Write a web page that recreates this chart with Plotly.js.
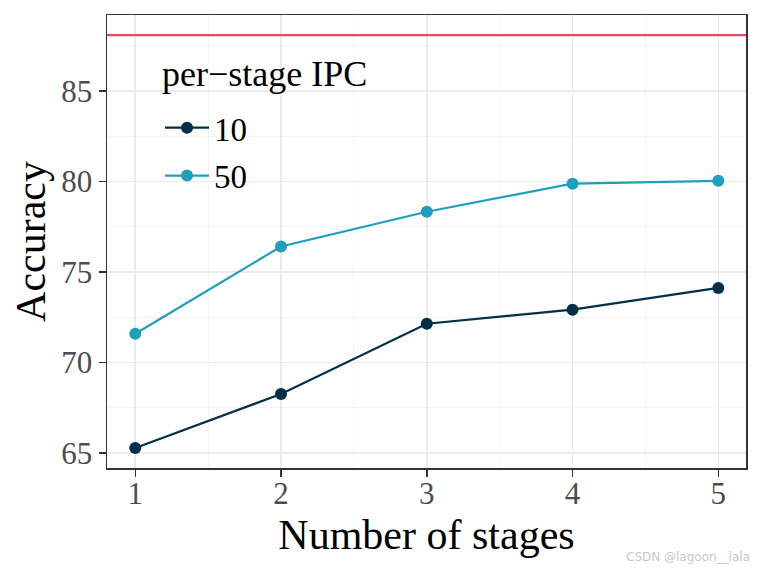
<!DOCTYPE html>
<html>
<head>
<meta charset="utf-8">
<script src="https://cdn.plot.ly/plotly-3.0.1.min.js"></script>
<style>html,body{margin:0;padding:0;background:#fff;}#chart{width:761px;height:571px;}</style>
</head>
<body>
<div id="chart"></div>
<script>
const stages = [1, 2, 3, 4, 5];
const acc_ipc10 = [65.28, 68.26, 72.14, 72.92, 74.12];
const acc_ipc50 = [71.59, 76.41, 78.33, 79.88, 80.04];
const seriesNames = ['10', '50'];
const legendTitle = 'per\u2212stage IPC';
const upperBound = 88.09;
const xTicks = [1, 2, 3, 4, 5];
const yTicks = [65, 70, 75, 80, 85];

const serif = '"Liberation Serif", "Times New Roman", serif';
const c10 = '#023047';
const c50 = '#219ebc';

const traces = [
  {x: stages, y: acc_ipc10, name: seriesNames[0], mode: 'lines+markers', type: 'scatter',
   line: {color: c10, width: 2.2}, marker: {color: c10, size: 12}, legendgroup: 'a'},
  {x: stages, y: acc_ipc50, name: seriesNames[1], mode: 'lines+markers', type: 'scatter',
   line: {color: c50, width: 2.2}, marker: {color: c50, size: 12}, legendgroup: 'b'}
];

const layout = {
  width: 761, height: 571,
  margin: {l: 107, r: 15, t: 15, b: 103},
  paper_bgcolor: '#fff', plot_bgcolor: '#fff',
  font: {family: serif, color: '#000'},
  showlegend: true,
  legend: {
    x: 0.083, y: 0.813, xanchor: 'left', yanchor: 'top',
    bgcolor: 'rgba(0,0,0,0)', borderwidth: 0,
    font: {family: serif, size: 33, color: '#000'},
    itemwidth: 44,
    tracegroupgap: 2, traceorder: 'grouped'
  },
  xaxis: {
    range: [0.806, 5.19], tickvals: xTicks, ticktext: xTicks.map(String),
    ticks: 'outside', ticklen: 7, tickwidth: 1.5, tickcolor: '#333',
    tickfont: {family: serif, size: 31, color: '#4d4d4d'},
    ticklabelstandoff: -10,
    showgrid: true, gridcolor: '#ebebeb', gridwidth: 1.6,
    minor: {dtick: 0.5, tick0: 0.5, showgrid: true, gridcolor: '#f2f2f2', gridwidth: 0.8, ticklen: 0},
    showline: true, linecolor: '#333', linewidth: 1.5, mirror: true, zeroline: false,
    title: {text: 'Number of stages', font: {family: serif, size: 42, color: '#000'}, standoff: 10}
  },
  yaxis: {
    range: [64.17, 89.2], tickvals: yTicks, ticktext: yTicks.map(String),
    ticks: 'outside', ticklen: 7, tickwidth: 1.5, tickcolor: '#333',
    tickfont: {family: serif, size: 31, color: '#4d4d4d'},
    showgrid: true, gridcolor: '#ebebeb', gridwidth: 1.6,
    minor: {dtick: 2.5, tick0: 62.5, showgrid: true, gridcolor: '#f2f2f2', gridwidth: 0.8, ticklen: 0},
    showline: true, linecolor: '#333', linewidth: 1.5, mirror: true, zeroline: false,
    title: {text: 'Accuracy', font: {family: serif, size: 42, color: '#000'}, standoff: 2}
  },
  shapes: [{type: 'line', xref: 'paper', x0: 0, x1: 1, yref: 'y', y0: upperBound, y1: upperBound,
            line: {color: '#e24a6a', width: 2.2}}],
  annotations: [
    {text: legendTitle, xref: 'paper', yref: 'paper', x: (160 - 107) / 639, y: (468 - 74) / 453,
     xanchor: 'left', yanchor: 'middle', showarrow: false,
     font: {family: serif, size: 36, color: '#000'}},
    {text: 'CSDN @lagoon__lala', xref: 'paper', yref: 'paper', x: 1.009, y: -0.196,
     xanchor: 'right', yanchor: 'middle', showarrow: false,
     font: {family: 'DejaVu Sans, sans-serif', size: 12, color: '#c8c8c8'}}]
};

Plotly.newPlot('chart', traces, layout, {displayModeBar: false, staticPlot: true});
</script>
</body>
</html>
